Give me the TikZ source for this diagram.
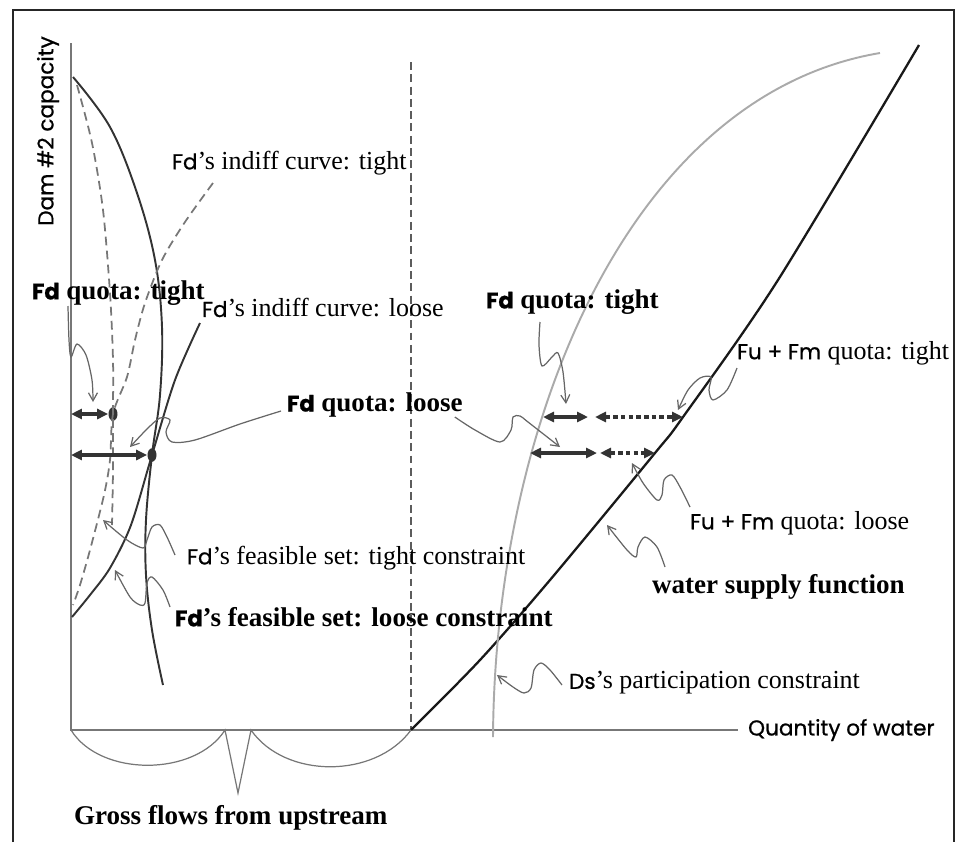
\documentclass[tikz,border=0pt]{standalone}
\usepackage{fontspec}
\setmainfont{Liberation Serif}
\newfontfamily\agfont[Scale=0.83, FakeBold=0.8]{Poppins}
\usepackage{tikz}
\usetikzlibrary{arrows.meta, calc, positioning, shapes.geometric}
\definecolor{linie}{HTML}{333333}
\definecolor{grau}{HTML}{777777}
\definecolor{hellgrau}{HTML}{AAAAAA}
\definecolor{zeiger}{HTML}{666666}
\newcommand{\ag}[1]{{\agfont #1}}

\begin{document}
\begin{tikzpicture}[x=0.02cm, y=-0.02cm,
    axis/.style={draw=grau, line width=0.8pt},
    curve/.style={draw=linie, line width=1.1pt},
    dcurve/.style={draw=grau, line width=1pt, dash pattern=on 5pt off 3pt},
    conn/.style={draw=zeiger, line width=0.7pt, -{Straight Barb[length=0.16cm, width=0.18cm]}},
    quota/.style={draw=linie, line width=1.8pt,
                  {Triangle[length=0.22cm, width=0.2cm]}-{Triangle[length=0.22cm, width=0.2cm]}},
    dquota/.style={quota, dash pattern=on 2.6pt off 1.8pt},
    ptdot/.style={ellipse, fill=linie, inner sep=0pt, minimum width=0.18cm, minimum height=0.27cm},
    lbl/.style={anchor=west, inner sep=1pt, font=\fontsize{14.8}{17}\selectfont},
    blbl/.style={lbl, font=\fontsize{15.4}{18}\selectfont\bfseries},
    axlbl/.style={inner sep=1pt, font=\agfont\fontsize{14.8}{17}\selectfont}
  ]
  \useasboundingbox (0,0) rectangle (956,842);

  % Rahmen
  \draw[line width=1.6pt, draw=black!85] (13,842) -- (13,10) -- (954,10) -- (954,842);

  % Achsen
  \coordinate (O) at (71,730);
  \coordinate (ytop) at (71,43);
  \coordinate (xend) at (738,730);
  \draw[axis] (ytop) -- (O) -- (xend);
  \node[axlbl, rotate=90] (dam) at (48,131) {Dam \#2 capacity};
  \node[axlbl, right=0.16cm of xend] (qow) {Quantity of water};

  \coordinate (vtop) at (411,62);
  \coordinate (vfoot) at (411,730);
  \draw[draw=linie!80, line width=1pt, dash pattern=on 4.5pt off 2.5pt] (vtop) -- (vfoot);

  % Kurven links
  \node[ptdot] (dT) at (113,414) {};
  \node[ptdot] (dL) at (152,455) {};
  \draw[curve] plot[smooth, tension=0.6] coordinates {(73,77) (110,127) (137,193) (155,260)
    (162,327) (160,395) (dL) (146,520) (146,575) (152,630) (163,685)};
  \draw[dcurve] plot[smooth] coordinates {(77,85) (92,143) (103,210) (110,293) (113,360)
    (dT) (113,470) (112,525)};
  \draw[curve] plot[smooth] coordinates {(200,323) (175,380) (dL) (131,525) (110,568)
    (90,595) (72,617)};
  \draw[dcurve] plot[smooth] coordinates {(213,183) (185,222) (162,260) (145,303) (135,340)
    (127,377) (dT) (110,460) (104,495) (90,550) (80,585) (73,605)};

  % Kurven rechts
  \draw[line width=1.3pt, draw=black!90] plot[smooth] coordinates {(vfoot) (480,660) (550,580)
    (655,453) (683,417) (778,280) (919,45)};
  \draw[draw=hellgrau, line width=1.1pt] (493,737) .. controls (495,420) and (630,95) .. (880,53);

  % Quoten
  \draw[quota] (O |- dT) -- (dT.west);
  \draw[quota] (O |- dL) -- (dL.west);
  \coordinate (rt1) at (543,417);
  \coordinate (rt2) at (588,417);
  \coordinate (rt3) at (595,417);
  \coordinate (rt4) at (683,417);
  \coordinate (rl1) at (530,453);
  \coordinate (rl2) at (597,453);
  \coordinate (rl3) at (600,453);
  \coordinate (rl4) at (655,453);
  \draw[quota] (rt1) -- (rt2);
  \draw[dquota] (rt3) -- (rt4);
  \draw[quota] (rl1) -- (rl2);
  \draw[dquota] (rl3) -- (rl4);

  % Zuflüsse
  \draw[draw=grau, line width=0.7pt] (O) .. controls (100,777) and (195,777) .. (225,730)
    -- (238,793) -- (251,730) .. controls (285,779) and (375,779) .. (vfoot);

  % Beschriftungen
  \node[lbl] (itT) at (170,163) {\ag{Fd}'s indiff curve: tight};
  \node[lbl] (itL) at (200,308) {\ag{Fd}'s indiff curve: loose};
  \node[blbl] (qtL) at (30,293) {\ag{Fd} quota: tight};
  \node[blbl] (qlM) at (285,405) {\ag{Fd} quota: loose};
  \node[blbl] (qtR) at (484,302) {\ag{Fd} quota: tight};
  \node[lbl] (ufT) at (735,353) {\ag{Fu + Fm} quota: tight};
  \node[lbl] (ufL) at (688,523) {\ag{Fu + Fm} quota: loose};
  \node[blbl] (wsf) at (650,587) {water supply function};
  \node[lbl] (dsp) at (567,683) {\ag{Ds}'s participation constraint};
  \node[lbl] (fsT) at (185,558) {\ag{Fd}'s feasible set: tight constraint};
  \node[blbl] (fsL) at (173,617) {\ag{Fd}'s feasible set: loose constraint};
  \node[blbl] (gfu) at (72,818) {Gross flows from upstream};

  % Zeiger
  \coordinate (zQtL) at (93,402);
  \coordinate (zQlL) at (130,447);
  \coordinate (zQlR) at (560,447);
  \coordinate (zQtR) at (566,404);
  \coordinate (zUt) at (678,410);
  \coordinate (zUl) at (632,463);
  \coordinate (zWs) at (607,525);
  \coordinate (zDs) at (497,675);
  \coordinate (zFt) at (103,520);
  \coordinate (zFl) at (115,570);
  \draw[conn] plot[smooth] coordinates {([shift={(38,13)}]qtL.west) (69,340) (71,357)
    (77,344) (86,355) (92,380) (zQtL)};
  \draw[conn] plot[smooth] coordinates {([shift={(-4,6)}]qlM.west) (240,424) (195,440)
    (172,442) (166,432) (170,420) (160,418) (147,429) (zQlL)};
  \draw[conn] plot[smooth] coordinates {([shift={(-10,12)}]qlM.east) (475,430) (500,442)
    (511,430) (513,417) (520,416) (528,422) (zQlR)};
  \draw[conn] plot[smooth] coordinates {([shift={(56,20)}]qtR.west) (539,345) (542,366)
    (552,357) (558,353) (563,372) (zQtR)};
  \draw[conn] plot[smooth] coordinates {([shift={(2,15)}]ufT.west) (727,390) (713,400)
    (709,390) (711,377) (700,378) (688,390) (zUt)};
  \draw[conn] plot[smooth] coordinates {([shift={(2,-16)}]ufL.west) (680,487) (672,475)
    (664,480) (662,495) (657,500) (643,483) (zUl)};
  \draw[conn] plot[smooth] coordinates {([shift={(15,-20)}]wsf.west) (657,547) (645,537)
    (638,547) (636,557) (627,550) (zWs)};
  \draw[conn] plot[smooth] coordinates {([shift={(-5,2)}]dsp.west) (550,670) (541,663)
    (534,670) (531,688) (524,693) (513,687) (zDs)};
  \draw[conn] plot[smooth] coordinates {([shift={(-10,-3)}]fsT.west) (167,537) (160,525)
    (152,527) (147,540) (143,548) (127,540) (zFt)};
  \draw[conn] plot[smooth] coordinates {([shift={(-3,-10)}]fsL.west) (163,590) (152,577)
    (147,583) (145,603) (140,605) (130,597) (zFl)};
\end{tikzpicture}
\end{document}
